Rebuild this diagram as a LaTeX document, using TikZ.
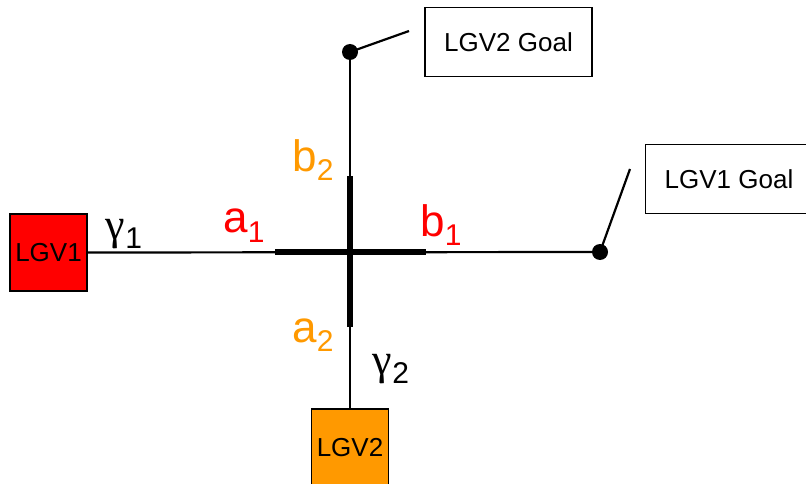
\documentclass[tikz,border=0pt]{standalone}
\usepackage{fontspec}
\setmainfont{Liberation Sans}
\newfontfamily\greekfont{Liberation Serif}
\usepackage{tikz}
\usetikzlibrary{positioning}
\definecolor{lgvred}{HTML}{FF0000}
\definecolor{lgvorange}{HTML}{FF9900}
\newcommand{\idx}[2]{#1\raisebox{-0.22em}{\fontsize{30}{30}\selectfont #2}}

\begin{document}
\begin{tikzpicture}[x=1pt, y=-1pt,
    vehicle/.style={draw=black, line width=1.6pt, minimum size=77pt, inner sep=0pt, font=\fontsize{26}{28}\selectfont},
    goalbox/.style={draw=black, line width=1.6pt, minimum width=167pt, minimum height=69pt, inner sep=0pt, font=\fontsize{26}{28}\selectfont},
    dot/.style={circle, fill=black, minimum size=16pt, inner sep=0pt},
    lbl/.style={inner sep=0pt, font=\fontsize{44}{46}\selectfont},
    wire/.style={line width=2.2pt, black},
    bar/.style={line width=6pt, black}
]
    \useasboundingbox (0,0) rectangle (806,484);

    % Vehicles and goals
    \node[vehicle, fill=lgvred] (lgv1) at (48.5, 252.5) {LGV1};
    \node[vehicle, fill=lgvorange] (lgv2) at (350, 447.5) {LGV2};
    \node[goalbox] (goal2) at (508.5, 42) {LGV2 Goal};
    \node[goalbox] (goal1) at (729, 179) {LGV1 Goal};

    % Path ends and crossing segment
    \coordinate (a1pt) at (275, 252);
    \coordinate (b1pt) at (426, 252);
    \coordinate (b2pt) at (350, 176);
    \coordinate (a2pt) at (350, 327);
    \coordinate (g1tip) at (630, 169);
    \coordinate (g2tip) at (409, 31);

    % Paths
    \draw[wire] (lgv1.east) -- (600, 252) node[dot] (g1dot) {};
    \draw[wire] (lgv2.north) -- (350, 52) node[dot] (g2dot) {};
    \draw[wire] (g1dot.center) -- (g1tip);
    \draw[wire] (g2dot.center) -- (g2tip);
    \draw[bar] (a1pt) -- (b1pt);
    \draw[bar] (a2pt) -- (b2pt);

    % Labels
    \node[lbl] (gamma1) at (124, 234) {\idx{{\greekfont γ}}{1}};
    \node[lbl] (gamma2) at (391, 369) {\idx{{\greekfont γ}}{2}};
    \node[lbl, text=lgvred] (la1) at (244, 226) {\idx{a}{1}};
    \node[lbl, text=lgvred] (lb1) at (441, 225) {\idx{b}{1}};
    \node[lbl, text=lgvorange] (lb2) at (313, 160) {\idx{b}{2}};
    \node[lbl, text=lgvorange] (la2) at (313, 335) {\idx{a}{2}};
\end{tikzpicture}
\end{document}
